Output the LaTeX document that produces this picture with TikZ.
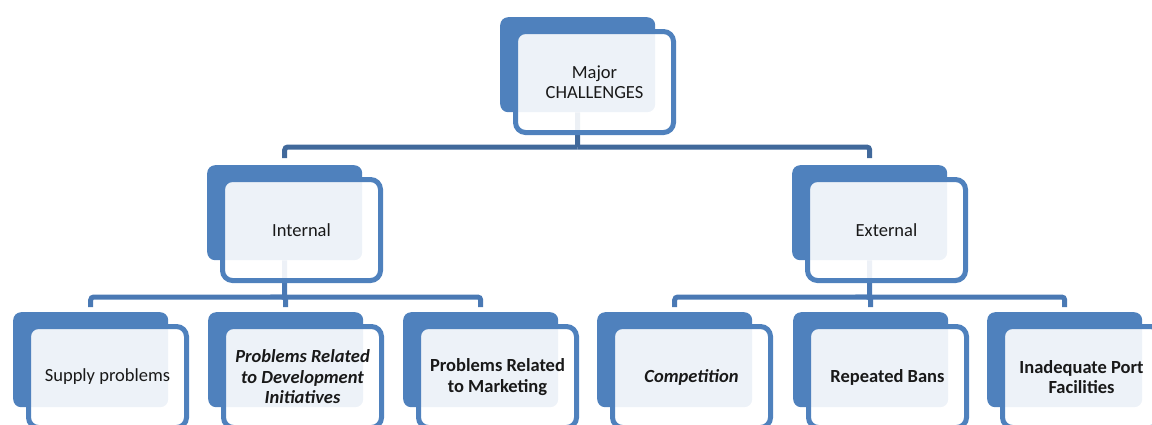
\documentclass[tikz,border=0pt]{standalone}
\usepackage{fontspec}
\setmainfont{Carlito}
\usetikzlibrary{backgrounds}
\definecolor{accent}{HTML}{4F81BD}
\definecolor{connA}{HTML}{41699B}
\definecolor{connB}{HTML}{4A79B4}
\newcommand{\boxfont}{\fontsize{18.5}{20.5}\selectfont}
\tikzset{
  bluebox/.style={fill=accent, draw=none, rounded corners=8pt, minimum width=155pt, minimum height=95pt, inner sep=0pt, anchor=north west},
  outbox/.style={draw=accent, line width=5pt, fill=white, fill opacity=0.9, text opacity=1, rounded corners=10pt,
    minimum width=158pt, minimum height=101pt, inner sep=0pt, align=center, text=black!90,
    font=\boxfont},
  conn1/.style={draw=connA, line width=5pt, rounded corners=3pt},
  conn2/.style={draw=connB, line width=5pt, rounded corners=3pt},
}
\newcommand{\chalbox}[5]{%
  \node[bluebox] (#1-b) at (#2,#3) {};
  \node[outbox, #4] (#1) at (#2+94.5,#3+65) {#5};
}
\begin{document}
\begin{tikzpicture}[x=1pt,y=-1pt]
\useasboundingbox (0,0) rectangle (1152,424);
\clip (0,0) rectangle (1152,424);
\chalbox{top}{500}{17}{}{Major\\CHALLENGES}
\chalbox{int}{207}{165}{}{Internal}
\chalbox{ext}{792}{165}{}{External}
\chalbox{sup}{13}{312}{}{Supply problems}
\chalbox{dev}{208}{312}{font=\boxfont\bfseries\itshape}{Problems Related\\to Development\\Initiatives}
\chalbox{mkt}{403}{312}{font=\boxfont\bfseries}{Problems Related\\to Marketing}
\chalbox{com}{597}{312}{font=\boxfont\bfseries\itshape}{Competition}
\chalbox{ban}{793}{312}{font=\boxfont\bfseries}{Repeated Bans}
\chalbox{prt}{987}{312}{font=\boxfont\bfseries}{Inadequate Port\\Facilities}
\coordinate (j0) at (577.5,147);
\coordinate (j1) at (284.5,297);
\coordinate (j2) at (869.5,297);
\begin{scope}[on background layer]
  \draw[conn1] (top-b.south) -- (j0);
  \draw[conn1, shorten >=7pt] (j0) -| (int-b.north);
  \draw[conn1, shorten >=7pt] (j0) -| (ext-b.north);
  \draw[conn2] (int-b.south) -- (j1);
  \draw[conn2, shorten >=5pt] (j1) -| (sup-b.north);
  \draw[conn2, shorten >=5pt] (j1) -| (dev-b.north);
  \draw[conn2, shorten >=5pt] (j1) -| (mkt-b.north);
  \draw[conn2] (ext-b.south) -- (j2);
  \draw[conn2, shorten >=5pt] (j2) -| (com-b.north);
  \draw[conn2, shorten >=5pt] (j2) -| (ban-b.north);
  \draw[conn2, shorten >=5pt] (j2) -| (prt-b.north);
\end{scope}
\end{tikzpicture}
\end{document}
